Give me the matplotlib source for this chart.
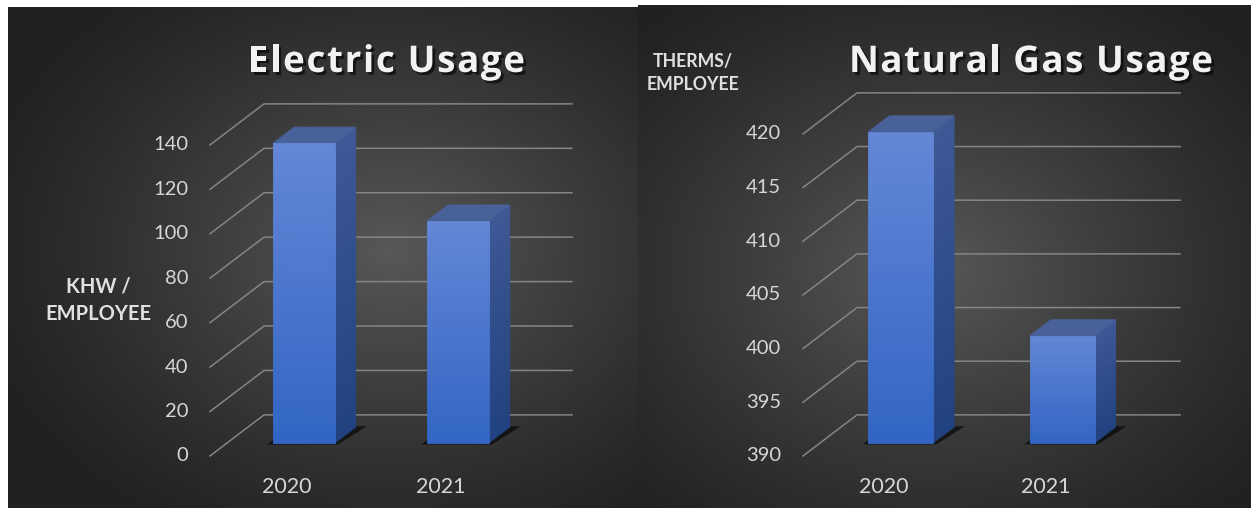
import numpy as np
import matplotlib.pyplot as plt
from matplotlib.patches import Polygon
from matplotlib.lines import Line2D
from matplotlib.transforms import IdentityTransform
import matplotlib.patheffects as pe

# data
years = ["2020", "2021"]
electric_kwh = [135, 100]
electric_ticks = [0, 20, 40, 60, 80, 100, 120, 140]
gas_therms = [419, 400]
gas_ticks = [390, 395, 400, 405, 410, 415, 420]

W, H = 1251, 508
FONT = "Lato"
TITLE_FONT = "Open Sans"
SLOPE = 0.76      # depth direction (px up per px right)
WALL = 37         # back wall depth in px
BAR_D = 21        # bar depth in px
LBL_D = -17       # front label plane
BAR_W = 0.4

fig = plt.figure(figsize=(W / 100, H / 100), dpi=100)
fig.patch.set_facecolor("white")


def frac(x0, y0, x1, y1):
    # image pixels (origin top-left) -> figure rect
    return [x0 / W, 1 - y1 / H, (x1 - x0) / W, (y1 - y0) / H]


def panel(x0, y0, x1, y1, cx, cy, rx, ry):
    bg = fig.add_axes(frac(x0, y0, x1, y1), zorder=0)
    X, Y = np.meshgrid(np.arange(x0, x1), np.arange(y0, y1))
    r = np.sqrt(((X - cx) / rx) ** 2 + ((Y - cy) / ry) ** 2)
    t = np.clip(1 - r, 0, 1) ** 1.2
    v = (0x21 + (0x58 - 0x21) * t) / 255
    bg.imshow(np.dstack([v, v, v]), aspect="auto", interpolation="bilinear")
    bg.axis("off")


def P(ax, x, y, d, ex=0):
    X, Y = ax.transData.transform((x, y))
    return (X + d + ex, Y + d * SLOPE)


def mix(c1, c2, t):
    return tuple((a + (b - a) * t) / 255 for a, b in zip(c1, c2))


def poly(ax, pts, color, z, alpha=1.0, lw=0.6):
    p = Polygon(pts, closed=True, facecolor=color, edgecolor=color if lw else "none",
                lw=lw, alpha=alpha, transform=IdentityTransform(), clip_on=False, zorder=z)
    ax.add_patch(p)


def spaced_title(s, x_left, x_right, y_base, **kw):
    # letter-spaced title spread across [x_left, x_right] (image px)
    r = fig.canvas.get_renderer()
    parts = [fig.text(0, 0, ch, ha="left", va="baseline", **kw) for ch in s]
    widths = [p.get_window_extent(r).width if ch != " " else 0 for p, ch in zip(parts, s)]
    space_w = 0.26 * kw["fontsize"] * 100 / 72
    widths = [w if ch != " " else space_w for w, ch in zip(widths, s)]
    track = (x_right - x_left - sum(widths)) / (len(s) - 1)
    x = x_left
    for p, w in zip(parts, widths):
        p.set_position((x / W, 1 - y_base / H))
        x += w + track


def draw_chart(rect, cats, vals, ticks):
    ax = fig.add_axes(frac(*rect), zorder=1)
    ax.axis("off")
    ymin, ymax = ticks[0], ticks[-1]
    ax.set_xlim(-0.5, len(cats) - 0.5)
    ax.set_ylim(ymin, ymax)
    ax.set_autoscale_on(False)
    x_lo, x_hi = -0.5, len(cats) - 0.5

    for t in ticks:
        pts = [P(ax, x_lo, t, LBL_D), P(ax, x_lo, t, WALL), P(ax, x_hi, t, WALL)]
        ax.add_line(Line2D([p[0] for p in pts], [p[1] for p in pts], color="#858585",
                           lw=1.1, transform=IdentityTransform(), clip_on=False, zorder=1))
        ax.annotate(f"{t}", xy=(x_lo, t), xytext=(LBL_D - 22, LBL_D * SLOPE),
                    textcoords="offset pixels", ha="right", va="center",
                    fontsize=14.5, color="#d6d6d6", family=FONT)

    front_top, front_bot = (100, 135, 214), (50, 101, 196)
    side_top, side_bot = (62, 89, 150), (33, 66, 128)
    top_col = mix((73, 97, 153), (73, 97, 153), 0)
    n = 60
    for i, v in enumerate(vals):
        x0, x1 = i - BAR_W / 2, i + BAR_W / 2
        # floor shadow
        poly(ax, [P(ax, x0, ymin, -2, -4), P(ax, x1, ymin, -2, 5),
                  P(ax, x1, ymin, BAR_D + 1, 10), P(ax, x0, ymin, BAR_D + 1, -4)],
             "black", 2, alpha=0.6, lw=0)
        for k in range(n):
            ya = ymin + (v - ymin) * k / n
            yb = ymin + (v - ymin) * (k + 1) / n
            tt = 1 - (k + 0.5) / n
            poly(ax, [P(ax, x0, ya, 0), P(ax, x1, ya, 0), P(ax, x1, yb, 0), P(ax, x0, yb, 0)],
                 mix(front_top, front_bot, tt), 4)
            poly(ax, [P(ax, x1, ya, 0), P(ax, x1, ya, BAR_D), P(ax, x1, yb, BAR_D), P(ax, x1, yb, 0)],
                 mix(side_top, side_bot, tt), 3)
        poly(ax, [P(ax, x0, v, 0), P(ax, x1, v, 0), P(ax, x1, v, BAR_D), P(ax, x0, v, BAR_D)],
             top_col, 3)
        ax.annotate(cats[i], xy=(i, ymin), xytext=(LBL_D, LBL_D * SLOPE - 31),
                    textcoords="offset pixels", ha="center", va="center",
                    fontsize=15.5, color="#d6d6d6", family=FONT)
    return ax


panel(8, 7, 638, 508, 390, 250, 430, 330)
panel(638, 5, 1251, 508, 930, 270, 430, 340)

shadow = [pe.withSimplePatchShadow(offset=(2, -2), shadow_rgbFace="black", alpha=0.6)]
title_kw = dict(fontsize=26.5, fontweight="bold", family=TITLE_FONT, color="#f2f2f2",
                path_effects=shadow)
spaced_title("Electric Usage", 248, 525, 72, **title_kw)
spaced_title("Natural Gas Usage", 849, 1213, 72, **title_kw)

draw_chart((227, 132, 535, 443), years, electric_kwh, electric_ticks)
draw_chart((820, 121, 1143, 443), years, gas_therms, gas_ticks)

fig.text(98 / W, 1 - 300 / H, "KHW /\nEMPLOYEE", ha="center", va="center", fontsize=14.5,
         fontweight="bold", family=FONT, color="#e0e0e0", linespacing=1.45)
fig.text(693 / W, 1 - 73 / H, "THERMS/\nEMPLOYEE", ha="center", va="center", fontsize=12.8,
         fontweight="bold", family=FONT, color="#e0e0e0", linespacing=1.5)

fig.savefig("out.png", dpi=100)
